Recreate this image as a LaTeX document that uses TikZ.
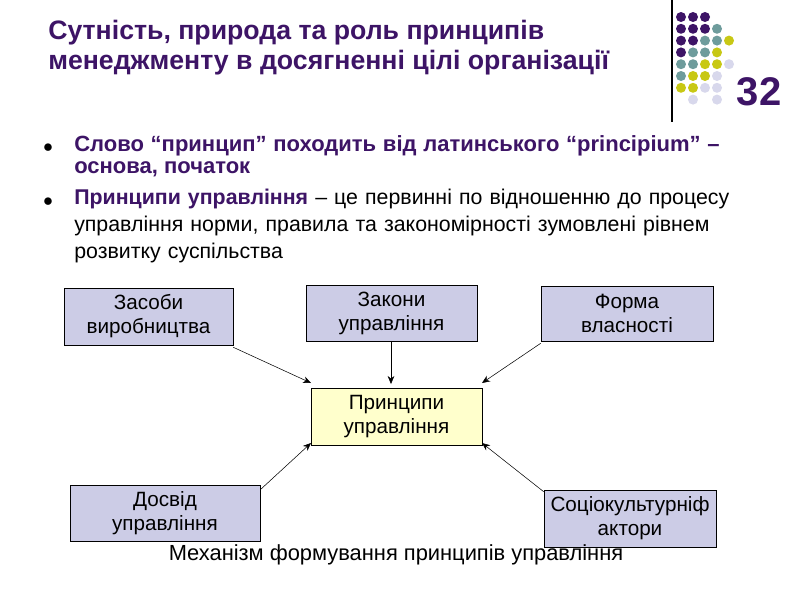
\documentclass[tikz,border=0pt]{standalone}
\usepackage{fontspec}
\setmainfont{Liberation Sans}
\usetikzlibrary{arrows.meta}
\definecolor{pur}{HTML}{3D1466}
\definecolor{tea}{HTML}{6E9C9C}
\definecolor{yel}{HTML}{C8C814}
\definecolor{lav}{HTML}{D8D8EC}
\definecolor{boxfill}{HTML}{CCCCE6}
\definecolor{cfill}{HTML}{FFFFCC}
\tikzset{
 bx/.style={draw=black, fill=boxfill, align=center, font=\fontsize{15.5}{18}\selectfont, inner sep=0pt},
 cbx/.style={bx, fill=cfill},
 arr/.style={-{Stealth[length=6pt,width=5pt]}, thin},
 dot/.style={circle, inner sep=0pt, minimum size=7.5pt, draw=none}
}
\begin{document}
\begin{tikzpicture}[x=0.75pt,y=-0.75pt]
\useasboundingbox (0,0) rectangle (800,600);
\fill[white] (0,0) rectangle (800,600);
\draw[black, line width=0.8pt] (672,0) -- (672,122);
% dots
\foreach \c/\r/\col in {0/0/pur,1/0/pur,2/0/pur,
 0/1/pur,1/1/pur,2/1/pur,3/1/tea,
 0/2/pur,1/2/pur,2/2/tea,3/2/tea,4/2/yel,
 0/3/pur,1/3/tea,2/3/tea,3/3/yel,
 0/4/tea,1/4/tea,2/4/yel,3/4/yel,4/4/lav,
 0/5/tea,1/5/yel,2/5/yel,3/5/lav,
 0/6/yel,1/6/yel,2/6/lav,3/6/lav,
 1/7/lav,3/7/lav}
 \node[dot, fill=\col] (d\c\r) at (681+\c*12, 17+\r*11.8) {};
\node[text=pur, font=\bfseries\fontsize{30}{30}\selectfont] (num) at (759,92) {32};
\node[text=pur, font=\bfseries\fontsize{20}{22.5}\selectfont, align=left, anchor=north west, inner sep=0pt] (title) at (48,20) {Сутність, природа та роль принципів\\менеджменту в досягненні цілі організації};
% bullets
\node[text=black, font=\fontsize{13}{13}\selectfont] (b1) at (48,148) {●};
\node[text=black, font=\fontsize{13}{13}\selectfont] (b2) at (48,202) {●};
\node[anchor=north west, text width=484pt, align=justify, font=\fontsize{16.5}{16.5}\selectfont, text=pur, inner sep=0pt] (t1) at (74,135) {\bfseries Слово “принцип” походить від латинського “principium” – основа, початок};
\node[anchor=north west, text width=512pt, align=left, font=\fontsize{16}{20}\selectfont, inner sep=0pt] (t2) at (74,189) {{\bfseries\color{pur}Принципи управління} – це первинні по відношенню до процесу управління норми, правила та закономірності зумовлені рівнем розвитку суспільства};
% boxes
\node[bx, minimum width=169*0.75pt, minimum height=57*0.75pt] (a) at (148.5,316.5) {Засоби\\виробництва};
\node[bx, minimum width=171*0.75pt, minimum height=56*0.75pt] (b) at (391.5,313) {Закони\\управління};
\node[bx, minimum width=172*0.75pt, minimum height=55*0.75pt] (c) at (627,313.5) {Форма\\власності};
\node[cbx, minimum width=171*0.75pt, minimum height=57*0.75pt] (p) at (396.5,416.5) {Принципи\\управління};
\node[bx, minimum width=190*0.75pt, minimum height=56*0.75pt] (d) at (165,513) {Досвід\\управління};
\node[bx, minimum width=172*0.75pt, minimum height=57*0.75pt] (e) at (630,518.5) {Соціокультурніф\\актори};
\coordinate (pa) at (311,383);
\coordinate (pb) at (391,384);
\coordinate (pc) at (482,383);
\coordinate (pd) at (311,443);
\coordinate (pe) at (482,443);
\draw[arr] (a.south east) ++(0,2) -- (pa);
\draw[arr] (b.south -| pb) -- (pb);
\draw[arr] (c.south west) ++(0,2) -- (pc);
\draw[arr] (d.north east) ++(0,5) -- (pd);
\draw[arr] (e.north west) ++(0,2) -- (pe);
\node[font=\fontsize{16.4}{16.4}\selectfont] (cap) at (396,555) {Механізм формування принципів управління};
\end{tikzpicture}
\end{document}
